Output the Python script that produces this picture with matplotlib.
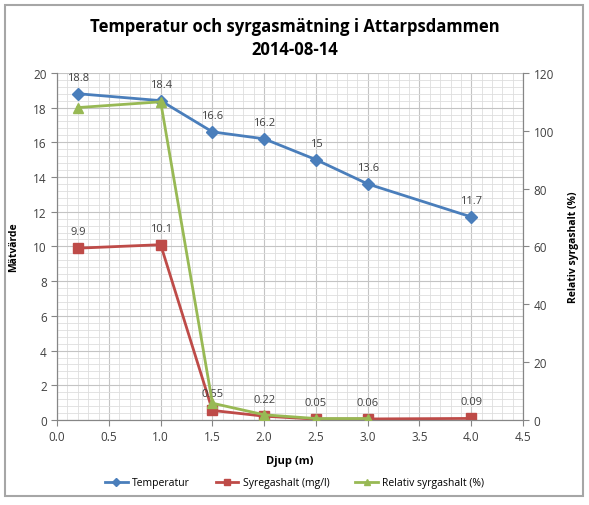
import matplotlib
matplotlib.use("Agg")
import matplotlib.pyplot as plt
from matplotlib.patches import Rectangle
from matplotlib.lines import Line2D
import numpy as np

depth = [0.2, 1.0, 1.5, 2.0, 2.5, 3.0, 4.0]
temperatur = [18.8, 18.4, 16.6, 16.2, 15, 13.6, 11.7]
syrgashalt = [9.9, 10.1, 0.55, 0.22, 0.05, 0.06, 0.09]
rel_depth = [0.2, 1.0, 1.5, 2.0, 2.5, 3.0]
rel_syrgashalt = [108, 110, 5.8, 1.8, 0.5, 0.5]
temp_labels = ["18.8", "18.4", "16.6", "16.2", "15", "13.6", "11.7"]
syr_labels = ["9.9", "10.1", "0.55", "0.22", "0.05", "0.06", "0.09"]
series_names = ['Temperatur', 'Syregashalt (mg/l)', 'Relativ syrgashalt (%)']

plt.rcParams['font.family'] = ['Open Sans', 'DejaVu Sans']

fig = plt.figure(figsize=(5.89, 5.06), dpi=100)
ax = fig.add_axes([0.097, 0.168, 0.791, 0.686])
ax2 = ax.twinx()

blue = '#4A7EBB'
red = '#BE4B48'
green = '#98B954'

ax.set_xlim(0, 4.5)
ax.set_ylim(0, 20)
ax2.set_ylim(0, 120)
ax.set_xticks(np.arange(0, 4.51, 0.5))
ax.set_xticklabels([f"{v:.1f}" for v in np.arange(0, 4.51, 0.5)])
ax.set_yticks(np.arange(0, 21, 2))
ax2.set_yticks(np.arange(0, 121, 20))
ax.set_xticks(np.arange(0, 4.51, 0.1), minor=True)
ax.set_yticks(np.arange(0, 20.01, 0.4), minor=True)
ax.grid(True, which='major', color='#C4C4C4', lw=0.8)
ax.grid(True, which='minor', color='#DEDEDE', lw=0.6)
ax.tick_params(which='minor', length=0)
ax.tick_params(which='major', labelsize=8.5, colors='#404040', length=4, color='#868686')
ax2.tick_params(which='major', labelsize=8.5, colors='#404040', length=4, color='#868686')
for a in (ax, ax2):
    for s in a.spines.values():
        s.set_color('#868686')
    a.spines['top'].set_visible(False)
ax.set_axisbelow(True)

ax.plot(depth, temperatur, color=blue, lw=2, marker='D', ms=6, label=series_names[0], zorder=4)
ax.plot(depth, syrgashalt, color=red, lw=2, marker='s', ms=7, label=series_names[1], zorder=4)
ax2.plot(rel_depth, rel_syrgashalt, color=green, lw=2, marker='^', ms=7, label=series_names[2], zorder=4)

for x, y, t in zip(depth, temperatur, temp_labels):
    ax.annotate(t, (x, y), xytext=(0, 8), textcoords='offset points', ha='center', va='bottom', fontsize=8, color='#404040', zorder=6)
for x, y, t in zip(depth, syrgashalt, syr_labels):
    ax.annotate(t, (x, y), xytext=(0, 8), textcoords='offset points', ha='center', va='bottom', fontsize=8, color='#404040', zorder=6)

ax.set_xlabel('Djup (m)', fontsize=8, fontweight='bold', labelpad=8)
ax.set_ylabel('Mätvärde', fontsize=7.5, fontweight='bold', labelpad=10)
ax2.set_ylabel('Relativ syrgashalt (%)', fontsize=7.5, fontweight='bold', labelpad=10)

fig.text(0.5, 0.965, 'Temperatur och syrgasmätning i Attarpsdammen\n2014-08-14',
         ha='center', va='top', fontsize=12, fontweight='bold', linespacing=1.35)

handles = [Line2D([], [], color=blue, lw=2, marker='D', ms=4),
           Line2D([], [], color=red, lw=2, marker='s', ms=5),
           Line2D([], [], color=green, lw=2, marker='^', ms=5)]
fig.legend(handles, series_names, loc='center', bbox_to_anchor=(0.5, 0.044), ncol=3,
           frameon=False, fontsize=7.5, handlelength=2.2, columnspacing=2.5, handletextpad=0.4)

fig.patches.append(Rectangle((0.008, 0.018), 0.982, 0.97, transform=fig.transFigure,
                             fill=False, edgecolor='#A6A6A6', lw=1.5))

fig.savefig('out.png', dpi=100)
